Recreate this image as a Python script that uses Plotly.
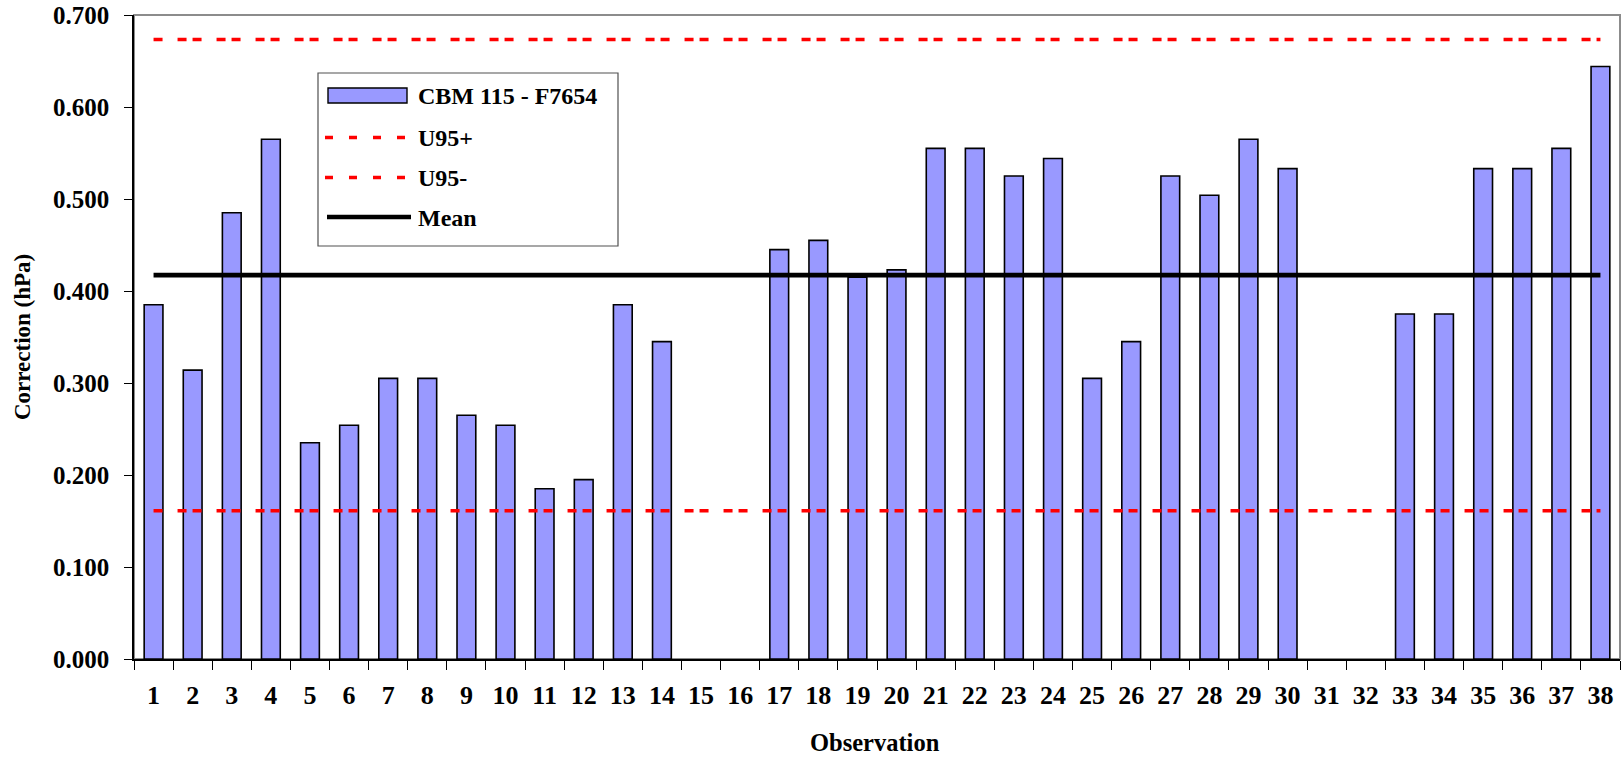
import numpy as np
import plotly.graph_objects as go

# Observation numbers and corrections (hPa); gaps are observations without a result
observations = [str(i) for i in range(1, 39)]
corrections = [
    0.385, 0.314, 0.485, 0.565, 0.235, 0.254, 0.305, 0.305, 0.265, 0.254,
    0.185, 0.195, 0.385, 0.345, None, None, 0.445, 0.455, 0.415, 0.423,
    0.555, 0.555, 0.525, 0.544, 0.305, 0.345, 0.525, 0.504, 0.565, 0.533,
    None, None, 0.375, 0.375, 0.533, 0.533, 0.555, 0.644,
]
u95_half_width = 0.256
series_name = "CBM 115 - F7654"
y_ticks = [0.0, 0.1, 0.2, 0.3, 0.4, 0.5, 0.6, 0.7]

mean_value = float(np.nanmean(np.array(corrections, dtype=float)))
u95_plus = mean_value + u95_half_width
u95_minus = mean_value - u95_half_width

W, H = 1622, 758
L, R, T, B = 134, 2, 15, 99
PW, PH = W - L - R, H - T - B

FONT = "Liberation Serif, Times New Roman, serif"
BAR_FILL = "#9999FF"
RED = "#FF0000"
DASH = "9px,15px,9px,6px"


def px(x):
    return (x - L) / PW


def py(y):
    return (H - B - y) / PH


fig = go.Figure()

fig.add_trace(go.Bar(
    x=observations, y=corrections, name=series_name,
    marker=dict(color=BAR_FILL, line=dict(color="black", width=1.6)),
    showlegend=False,
))
for level, dash, color, width, name in [
    (u95_plus, DASH, RED, 3.5, "U95+"),
    (u95_minus, DASH, RED, 3.5, "U95-"),
    (mean_value, "solid", "black", 4.6, "Mean"),
]:
    fig.add_trace(go.Scatter(
        x=observations, y=[level] * len(observations), mode="lines", name=name,
        line=dict(color=color, width=width, dash=dash), showlegend=False,
    ))

shapes = [
    # plot-area frame (top / right in grey)
    dict(type="rect", xref="paper", yref="paper", x0=0, x1=1, y0=0, y1=1,
         line=dict(color="#8C8C8C", width=2), layer="below"),
    # legend box
    dict(type="rect", xref="paper", yref="paper",
         x0=px(318), x1=px(618), y0=py(246), y1=py(73),
         line=dict(color="#505050", width=1.2), fillcolor="white"),
    dict(type="rect", xref="paper", yref="paper",
         x0=px(328), x1=px(407), y0=py(103), y1=py(88),
         line=dict(color="black", width=1.4), fillcolor=BAR_FILL),
    dict(type="line", xref="paper", yref="paper",
         x0=px(325), x1=px(408), y0=py(137.5), y1=py(137.5),
         line=dict(color=RED, width=3.5, dash="8px,16px")),
    dict(type="line", xref="paper", yref="paper",
         x0=px(325), x1=px(408), y0=py(177.5), y1=py(177.5),
         line=dict(color=RED, width=3.5, dash="8px,16px")),
    dict(type="line", xref="paper", yref="paper",
         x0=px(327), x1=px(411), y0=py(217), y1=py(217),
         line=dict(color="black", width=4.6)),
]

legend_labels = [(series_name, 96), ("U95+", 138), ("U95-", 178), ("Mean", 218)]
annotations = [
    dict(text=txt, xref="paper", yref="paper", x=px(416), y=py(yc),
         xanchor="left", yanchor="middle", showarrow=False,
         font=dict(family=FONT, size=24, color="black", weight="bold"))
    for txt, yc in legend_labels
]
annotations += [
    dict(text="Correction (hPa)", xref="paper", yref="paper", x=px(22), y=0.5,
         xanchor="center", yanchor="middle", textangle=-90, showarrow=False,
         font=dict(family=FONT, size=23, color="black", weight="bold")),
    dict(text="Observation", xref="paper", yref="paper", x=px(875), y=py(742),
         xanchor="center", yanchor="middle", showarrow=False,
         font=dict(family=FONT, size=24.5, color="black", weight="bold")),
]

fig.update_layout(
    width=W, height=H,
    margin=dict(l=L, r=R, t=T, b=B, autoexpand=False),
    paper_bgcolor="white", plot_bgcolor="white",
    bargap=0.52,
    shapes=shapes, annotations=annotations,
    font=dict(family=FONT, color="black"),
)
fig.update_xaxes(
    type="category", categoryorder="array", categoryarray=observations,
    range=[-0.5, len(observations) - 0.5],
    showline=True, linecolor="black", linewidth=1.5,
    ticks="outside", ticklen=9, tickwidth=1.2, tickcolor="black",
    tickson="boundaries", showgrid=False, zeroline=False,
    tickfont=dict(family=FONT, size=26, color="black", weight="bold"),
    ticklabelstandoff=12,
)
fig.update_yaxes(
    range=[0, 0.7], tickvals=y_ticks, tickformat=".3f",
    showline=True, linecolor="black", linewidth=1.5,
    ticks="outside", ticklen=8, tickwidth=1.2, tickcolor="black",
    showgrid=False, zeroline=False,
    tickfont=dict(family=FONT, size=25, color="black", weight="bold"),
    ticklabelstandoff=10,
)

fig.write_html("out.html")
